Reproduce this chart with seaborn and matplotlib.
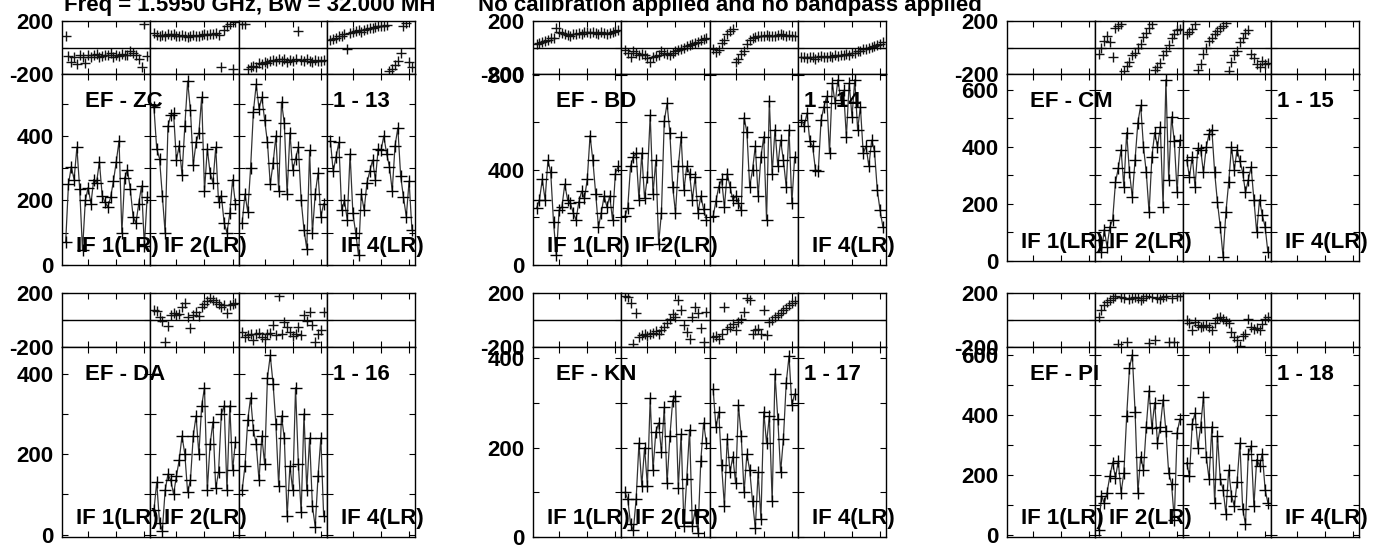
import numpy as np
import matplotlib
matplotlib.use("Agg")
import matplotlib.pyplot as plt
import seaborn as sns

sns.set_style("white")
plt.rcParams['font.family'] = ['Liberation Sans', 'DejaVu Sans']
plt.rcParams['font.weight'] = 'bold'
plt.rcParams['text.color'] = 'black'
plt.rcParams['xtick.color'] = 'black'
plt.rcParams['ytick.color'] = 'black'
plt.rcParams['axes.edgecolor'] = 'black'

# ---- data: amplitude and phase per IF (None = no data) ----
zc_amp_if1 = [70, 250, 305, 265, 365, 235, 45, 200, 240, 190, 265, 255, 320, 215, 195, 180, 210, 260, 320, 385, 100, 270, 295, 235, 150, 130, 190, 245, 60, 210]
zc_amp_if2 = [490, 360, 330, 215, 100, 430, 465, 470, 325, 370, 280, 430, 570, 480, 310, 380, 410, 520, 230, 360, 285, 255, 365, 195, 215, 130, 100, 160, 265, 190]
zc_amp_if3 = [130, 220, 165, 300, 475, 560, 485, 520, 450, 380, 250, 315, 400, 230, 505, 440, 220, 410, 295, 330, 365, 200, 110, 50, 355, 100, 220, 285, 150, 190]
zc_amp_if4 = [385, 290, 335, 380, 170, 200, 140, 345, 160, 100, 30, 220, 170, 255, 290, 325, 265, 360, 355, 400, 345, 305, 230, 370, 425, 275, 210, 150, 260, 110]
zc_ph_if1 = [88, -65, -110, -70, -125, -60, -75, -120, -55, -70, -60, -50, -75, -65, -55, -60, -40, -70, -55, -65, -50, -60, -55, -30, -45, -60, -85, -150, 175, -65]
zc_ph_if2 = [110, 95, 85, 95, 90, 100, 95, 100, 90, 85, 95, 90, 80, 90, 95, 85, 90, 95, 100, 95, 105, 100, 110, 95, -150, 135, 160, 175, -160, 190]
zc_ph_if3 = [180, 175, -160, -150, -140, -150, -120, -125, -110, -115, -100, -95, -105, -90, -100, -85, -110, -95, -100, -90, 125, -95, -105, -90, -100, -110, -95, -105, -100, -95]
zc_ph_if4 = [60, 65, 75, 85, 90, 100, -15, 110, 115, 125, 130, 120, 135, 140, 150, 145, 155, 160, 165, 160, 170, -175, -160, -130, -100, -40, 165, 185, -110, -150]

bd_amp_if1 = [240, 275, 360, 275, 440, 390, 180, 40, 230, 245, 340, 275, 260, 220, 190, 265, 310, 280, 360, 545, 440, 300, 160, 220, 290, 245, 290, 190, 385, 415]
bd_amp_if2 = [205, 240, 415, 455, 470, 275, 470, 280, 370, 630, 300, 440, 90, 220, 605, 680, 555, 330, 220, 415, 540, 315, 415, 385, 275, 370, 220, 290, 235, 190]
bd_amp_if3 = [205, 270, 330, 360, 245, 385, 330, 275, 290, 260, 230, 620, 560, 330, 400, 500, 290, 455, 540, 190, 690, 385, 570, 415, 525, 440, 330, 570, 260, 455]
bd_amp_if4 = [610, 585, 640, 520, 500, 400, 395, 610, 665, 710, 470, 765, 680, 780, 695, 735, 540, 765, 625, 780, 570, 665, 470, 500, 415, 525, 480, 315, 230, 160]
bd_ph_if1 = [25, 35, 45, 50, 60, 70, 75, 150, 120, 110, 100, 95, 90, 100, 105, 110, 100, 115, 120, 110, 115, 110, 105, 115, 110, 100, 110, 120, 125, 130]
bd_ph_if2 = [-20, -45, -75, -30, -40, -55, -50, -60, -80, -110, -75, -65, -55, -30, -40, -50, -60, -45, -30, -20, -10, -5, 10, 20, 30, 35, 45, 55, 65, 75]
bd_ph_if3 = [-10, -35, -20, 35, 60, 100, 125, 140, -110, -85, -50, -25, 30, 55, 75, 80, 85, 90, 85, 95, 90, 85, 90, 95, 100, 95, 90, 95, 90, 90]
bd_ph_if4 = [-70, -75, -80, -70, -75, -85, -70, -65, -70, -75, -65, -70, -60, -65, -55, -60, -50, -55, -45, -40, -30, -25, -15, -10, 0, 5, 10, 20, 25, 40]

cm_amp_if2 = [75, 30, 110, 50, 120, 145, 275, 325, 390, 260, 450, 310, 225, 355, 485, 545, 400, 310, 170, 365, 450, 400, 470, 190, 635, 285, 505, 420, 240, 425]
cm_amp_if3 = [355, 295, 365, 260, 395, 390, 310, 400, 445, 460, 310, 205, 120, 15, 170, 275, 400, 320, 390, 350, 310, 240, 285, 330, 215, 100, 215, 160, 120, 30]
cm_ph_if2 = [-50, 0, 50, 90, 40, -70, 150, 165, 175, -175, -140, -110, -60, -40, 0, 30, 80, 110, 150, 175, -170, -150, -115, -60, -30, 20, 70, 100, 135, 140]
cm_ph_if3 = [100, 115, 140, 175, -170, -125, -50, 0, 50, 75, 100, 125, 150, 165, 185, -175, -110, -60, -25, 40, 75, 110, 135, -50, -80, -125, -150, -100, -125, -115]

da_amp_if2 = [60, 130, 30, 10, 110, 150, 135, 100, 145, 185, 245, 200, 105, 135, 245, 295, 200, 320, 365, 110, 225, 280, 115, 155, 300, 320, 110, 320, 160, 230]
da_amp_if3 = [110, 170, 285, 340, 260, 225, 135, 245, 175, 390, 445, 375, 275, 120, 295, 240, 45, 170, 110, 365, 175, 55, 300, 110, 240, 70, 20, 145, 240, 45]
da_ph_if2 = [75, 70, 20, -10, -165, -45, 40, 50, 35, 45, 100, 125, 25, -60, 40, 60, 30, 100, 115, 140, 160, 150, 135, 120, 100, 110, 55, 110, 120, 125]
da_ph_if3 = [-90, -125, -110, -100, -150, -105, -95, -125, -140, -100, -95, -40, -110, 175, -100, -15, -50, -90, -115, -100, -50, -110, 40, -10, 60, -35, -165, -100, -75, 60]

kn_amp_if2 = [100, 85, 30, 15, 85, 210, 115, 200, 115, 310, 150, 235, 255, 190, 290, 120, 225, 305, 315, 110, 230, 25, 130, 240, 25, 60, 10, 170, 255, 210]
kn_amp_if3 = [330, 245, 280, 160, 70, 220, 145, 180, 120, 295, 225, 100, 185, 150, 80, 20, 145, 40, 280, 210, 270, 80, 365, 265, 145, 220, 345, 405, 295, 320]
kn_ph_if2 = [180, 170, 125, -180, 50, -125, -110, -100, -115, -105, -95, -85, -100, -75, -50, -25, 10, 45, 25, 150, 75, -40, -90, -140, 25, 100, 50, -60, -165, 60]
kn_ph_if3 = [-125, -115, -140, -105, 100, -65, -50, -30, -75, -15, 10, 60, 160, 150, -100, -75, -65, -100, 75, -110, -15, 0, 20, 35, 50, 75, 90, 110, 125, 140]

pi_amp_if2 = [15, 130, 105, 140, 195, 240, 190, 245, 140, 205, 395, 555, 600, 410, 140, 260, 215, 360, 480, 355, 440, 305, 360, 450, 345, 205, 170, 50, 340, 385]
pi_amp_if3 = [240, 195, 370, 405, 290, 360, 460, 260, 185, 360, 105, 330, 185, 150, 70, 215, 130, 95, 175, 305, 85, 35, 270, 295, 95, 250, 230, 270, 150, 105]
pi_ph_if2 = [25, 75, 110, 130, 150, 165, 175, -175, 170, 160, -160, 155, 165, 170, 160, 150, 165, 175, -170, 170, -145, 165, 155, 170, 175, -160, 165, -165, 175, 175]
pi_ph_if3 = [0, -25, -75, -15, -40, -50, -45, -40, -55, -75, -20, 15, 25, 10, -10, -25, -90, -125, -150, -190, -115, -100, 10, -50, -65, -60, -75, -30, 5, 25]

baseline_names = ["EF - ZC", "EF - BD", "EF - CM", "EF - DA", "EF - KN", "EF - PI"]
baseline_ids = ["1 - 13", "1 - 14", "1 - 15", "1 - 16", "1 - 17", "1 - 18"]
if_labels = ["IF 1(LR)", "IF 2(LR)", None, "IF 4(LR)"]
amp_lists = [
    [zc_amp_if1, zc_amp_if2, zc_amp_if3, zc_amp_if4],
    [bd_amp_if1, bd_amp_if2, bd_amp_if3, bd_amp_if4],
    [None, cm_amp_if2, cm_amp_if3, None],
    [None, da_amp_if2, da_amp_if3, None],
    [None, kn_amp_if2, kn_amp_if3, None],
    [None, pi_amp_if2, pi_amp_if3, None],
]
ph_lists = [
    [zc_ph_if1, zc_ph_if2, zc_ph_if3, zc_ph_if4],
    [bd_ph_if1, bd_ph_if2, bd_ph_if3, bd_ph_if4],
    [None, cm_ph_if2, cm_ph_if3, None],
    [None, da_ph_if2, da_ph_if3, None],
    [None, kn_ph_if2, kn_ph_if3, None],
    [None, pi_ph_if2, pi_ph_if3, None],
]
amp_ylims = [(0, 592), (0, 804), (0, 655), (-6, 466), (0, 425), (-8, 625)]
amp_steps = [100, 200, 100, 100, 100, 100]

# ---- layout in pixels ----
W, H = 1393, 547
fig = plt.figure(figsize=(W / 100, H / 100), dpi=100)
col_x = [(62, 415), (533, 886), (1007, 1359)]
# (phase top, amp top, amp bottom) per panel
row_y = [(21, 74, 265), (21, 74, 265), (21, 74, 261),
         (293, 347, 537), (293, 347, 537), (293, 347, 537)]
FS = 16


def px_axes(x0, x1, y0, y1):
    return fig.add_axes([x0 / W, 1 - y1 / H, (x1 - x0) / W, (y1 - y0) / H])


def style(ax):
    for s in ax.spines.values():
        s.set_linewidth(1.0)
        s.set_color("black")
    ax.tick_params(direction="in", length=4, width=0.8, top=True, right=True,
                   bottom=True, left=True, labelsize=FS, pad=6, colors="black")
    ax.set_xlim(0.7, 32.1)
    ax.set_xticks([10, 20, 30])
    ax.set_xticklabels([])
    ax.set_xlabel("")
    ax.set_ylabel("")


for p in range(6):
    left, right = col_x[p % 3]
    ytop, ymid, ybot = row_y[p]
    sw = (right - left) / 4
    lo, hi = amp_ylims[p]
    step = amp_steps[p]
    for k in range(4):
        x0 = left + k * sw
        x1 = x0 + sw
        axp = px_axes(x0, x1, ytop, ymid)
        axa = px_axes(x0, x1, ymid, ybot)

        ph = ph_lists[p][k]
        if ph is not None:
            sns.scatterplot(x=np.arange(2, 2 + len(ph)), y=ph, ax=axp, marker="+",
                            s=55, color="#111111", linewidth=1.0, legend=False)
        amp = amp_lists[p][k]
        if amp is not None:
            sns.lineplot(x=np.arange(2, 2 + len(amp)), y=amp, ax=axa, color="#333333",
                         linewidth=0.9, marker="+", markersize=8, markeredgewidth=1.0,
                         markeredgecolor="#000000", estimator=None, sort=False, legend=False)

        axp.axhline(0, color="black", lw=1.0)
        style(axp)
        style(axa)
        axp.set_ylim(-200, 200)
        axp.set_yticks([-200, 0, 200])
        axa.set_ylim(lo, hi)
        ticks = np.arange(0, hi + 1, step)
        axa.set_yticks(ticks)
        if k == 0:
            axp.set_yticklabels(["-200", "", "200"], fontweight="bold")
            axa.set_yticklabels([str(int(t)) if t % (2 * step) == 0 else "" for t in ticks],
                                fontweight="bold")
        else:
            axp.set_yticklabels([])
            axa.set_yticklabels([])

        if if_labels[k] is not None:
            fig.text((x0 + 14) / W, 1 - (ybot - 13) / H, if_labels[k], fontsize=FS,
                     fontweight="bold", va="baseline", ha="left", color="black")

    fig.text((left + 23) / W, 1 - (ymid + 33) / H, baseline_names[p], fontsize=FS,
             fontweight="bold", va="baseline", ha="left", color="black")
    fig.text((left + 3 * sw + 6) / W, 1 - (ymid + 33) / H, baseline_ids[p], fontsize=FS,
             fontweight="bold", va="baseline", ha="left", color="black")

fig.text(64 / W, 1 - 11 / H, "Freq = 1.5950 GHz, Bw = 32.000 MH", fontsize=FS,
         fontweight="bold", va="baseline", ha="left", color="black")
fig.text(478 / W, 1 - 11 / H, "No calibration applied and no bandpass applied", fontsize=FS,
         fontweight="bold", va="baseline", ha="left", color="black")

fig.savefig("out.png", dpi=100)
